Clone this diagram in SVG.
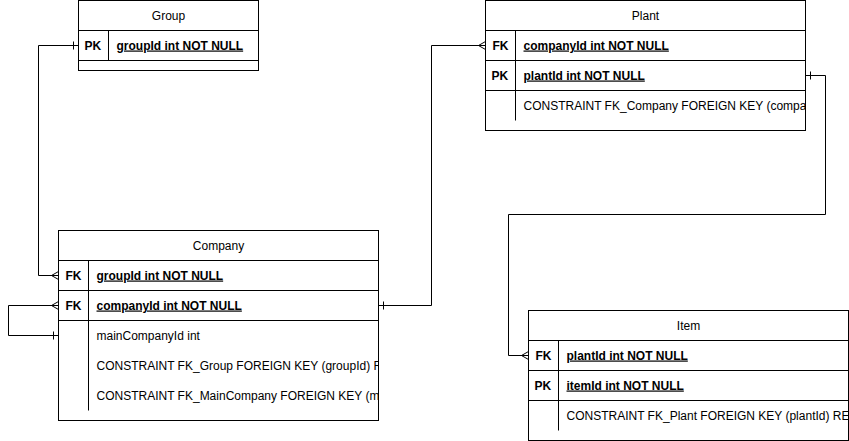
<svg xmlns="http://www.w3.org/2000/svg" width="849" height="441" viewBox="0 0 849 441">
<style>
.box{fill:#fff;stroke:#000;stroke-width:1}
.ln{fill:none;stroke:#000;stroke-width:1}
.t{font-family:"Liberation Sans",Arial,sans-serif;font-size:12px;fill:#000}
.title{text-anchor:middle}
.key{font-weight:bold}
.fld{font-weight:bold;text-decoration:underline}
.con{fill:none;stroke:#000;stroke-width:1}
</style>
<defs>
<marker id="one" markerUnits="userSpaceOnUse" markerWidth="12" markerHeight="12" viewBox="0 0 12 12" refX="10" refY="6" orient="auto-start-reverse">
<path d="M5,2 V10" fill="none" stroke="#000" stroke-width="1"/>
</marker>
<marker id="many" markerUnits="userSpaceOnUse" markerWidth="12" markerHeight="12" viewBox="0 0 12 12" refX="10" refY="6" orient="auto">
<path d="M10,2 L3,6 L10,10" fill="none" stroke="#000" stroke-width="1"/>
</marker>
<clipPath id="cpPlant"><rect x="485" y="0" width="320" height="130"/></clipPath>
<clipPath id="cpCompany"><rect x="58" y="230" width="320" height="190"/></clipPath>
<clipPath id="cpItem"><rect x="528" y="310" width="320" height="130"/></clipPath>
</defs>
<rect width="849" height="441" fill="#fff"/>
<g transform="translate(0.5,0.5)">
<g id="connectors">
<path class="con" d="M78,45 H38 V275 H58" marker-start="url(#one)" marker-end="url(#many)"/>
<path class="con" d="M58,335 H8 V305 H58" marker-start="url(#one)" marker-end="url(#many)"/>
<path class="con" d="M378,305 H431 V45 H485" marker-start="url(#one)" marker-end="url(#many)"/>
<path class="con" d="M805,75 H825 V214 H508 V355 H528" marker-start="url(#one)" marker-end="url(#many)"/>
</g>
<g id="group">
<rect class="box" x="78" y="0" width="180" height="70"/>
<path class="ln" d="M78,30 H258 M78,60 H258 M108,30 V60"/>
<text class="t title" x="168" y="19">Group</text>
<text class="t key" x="84" y="49">PK</text>
<text class="t fld" x="116" y="49">groupId int NOT NULL</text>
</g>
<g id="plant">
<rect class="box" x="485" y="0" width="320" height="130"/>
<path class="ln" d="M485,30 H805 M485,60 H805 M485,90 H805 M515,30 V120"/>
<text class="t title" x="645" y="19">Plant</text>
<text class="t key" x="492" y="49">FK</text>
<text class="t fld" x="523" y="49">companyId int NOT NULL</text>
<text class="t key" x="491" y="79">PK</text>
<text class="t fld" x="523" y="79">plantId int NOT NULL</text>
<g clip-path="url(#cpPlant)">
<text class="t" x="523" y="109">CONSTRAINT FK_Company FOREIGN KEY (compa</text>
</g>
</g>
<g id="company">
<rect class="box" x="58" y="230" width="320" height="190"/>
<path class="ln" d="M58,260 H378 M58,290 H378 M58,320 H378 M88,260 V410"/>
<text class="t title" x="218" y="249">Company</text>
<text class="t key" x="65" y="279">FK</text>
<text class="t fld" x="96" y="279">groupId int NOT NULL</text>
<text class="t key" x="65" y="309">FK</text>
<text class="t fld" x="96" y="309">companyId int NOT NULL</text>
<g clip-path="url(#cpCompany)">
<text class="t" x="96" y="339">mainCompanyId int</text>
<text class="t" x="96" y="369">CONSTRAINT FK_Group FOREIGN KEY (groupId) R</text>
<text class="t" x="96" y="399">CONSTRAINT FK_MainCompany FOREIGN KEY (m</text>
</g>
</g>
<g id="item">
<rect class="box" x="528" y="310" width="320" height="130"/>
<path class="ln" d="M528,340 H848 M528,370 H848 M528,400 H848 M558,340 V430"/>
<text class="t title" x="688" y="329">Item</text>
<text class="t key" x="535" y="359">FK</text>
<text class="t fld" x="566" y="359">plantId int NOT NULL</text>
<text class="t key" x="534" y="389">PK</text>
<text class="t fld" x="566" y="389">itemId int NOT NULL</text>
<g clip-path="url(#cpItem)">
<text class="t" x="566" y="419">CONSTRAINT FK_Plant FOREIGN KEY (plantId) RE</text>
</g>
</g>
</g>
</svg>
